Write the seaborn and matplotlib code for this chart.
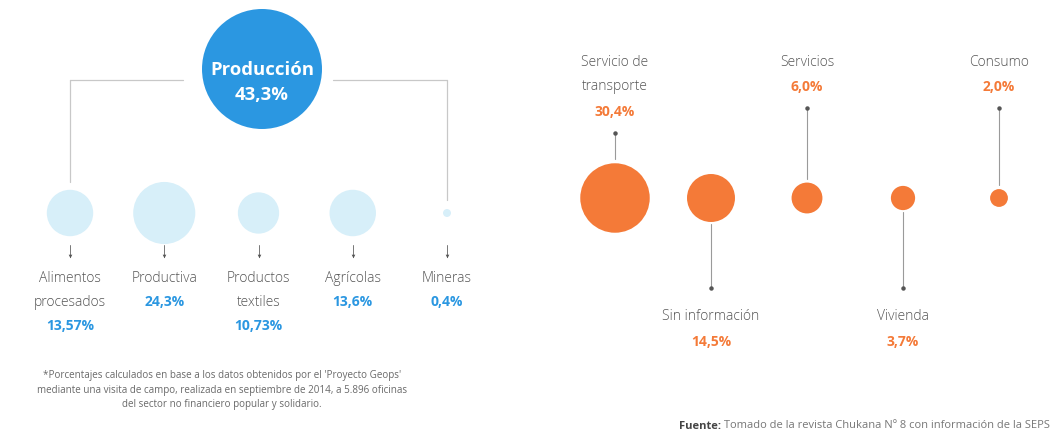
import numpy as np
import pandas as pd
import matplotlib
matplotlib.use("Agg")
import matplotlib.pyplot as plt
import seaborn as sns

# ---------------- data ----------------
prod_name = "Producción"
prod_total = 43.3
prod_label = "43,3%"

left_cats = ["Alimentos\nprocesados", "Productiva", "Productos\ntextiles", "Agrícolas", "Mineras"]
left_vals = [13.57, 24.3, 10.73, 13.6, 0.4]
left_labels = ["13,57%", "24,3%", "10,73%", "13,6%", "0,4%"]

right_cats = ["Servicio de\ntransporte", "Sin información", "Servicios", "Vivienda", "Consumo"]
right_vals = [30.4, 14.5, 6.0, 3.7, 2.0]
right_labels = ["30,4%", "14,5%", "6,0%", "3,7%", "2,0%"]
right_side = ["up", "down", "up", "down", "up"]

footnote = ("*Porcentajes calculados en base a los datos obtenidos por el 'Proyecto Geops'\n"
            "mediante una visita de campo, realizada en septiembre de 2014, a 5.896 oficinas\n"
            "del sector no financiero popular y solidario.")
source_bold = "Fuente:"
source_text = " Tomado de la revista Chukana Nº 8 con información de la SEPS"

# ---------------- style ----------------
W, H, DPI = 1053, 440, 100
BLUE = "#2b97e1"
LIGHT = "#d7eff9"
ORANGE = "#f47a38"
TXT = "#555555"
LINE = "#9a9a9a"
K = 6.3                      # px of radius per sqrt(percent)
PX2PT = 72.0 / DPI
LAB_FS = 10
LAB_W = "light"
VAL_FS = 10

sns.set_theme(style="white")
plt.rcParams["font.family"] = ["Open Sans", "DejaVu Sans"]

fig = plt.figure(figsize=(W / DPI, H / DPI), dpi=DPI)
ax = fig.add_axes([0, 0, 1, 1])
ax.set_xlim(0, W)
ax.set_ylim(H, 0)
ax.axis("off")

def radius(v):
    return K * np.sqrt(v)

# ---------------- left block ----------------
lx = 70 + np.arange(len(left_cats)) * 94.25
ly = 213
left_df = pd.DataFrame({"x": lx, "y": ly, "v": left_vals})
smax = (2 * K * np.sqrt(100) * PX2PT) ** 2
sns.scatterplot(data=left_df, x="x", y="y", size="v", sizes=(0, smax), size_norm=(0, 100),
                color=LIGHT, edgecolor="none", legend=False, ax=ax, alpha=1)

# header circle
prod_df = pd.DataFrame({"x": [np.mean(lx[[0, -1]]) + 3.5], "y": [69], "v": [prod_total]})
sns.scatterplot(data=prod_df, x="x", y="y", s=(120 * PX2PT) ** 2, color=BLUE,
                edgecolor="none", legend=False, ax=ax)
px = prod_df["x"][0]
ax.text(px, 70, prod_name, color="white", fontsize=13.3, fontweight="bold", ha="center", va="center")
ax.text(px, 95, prod_label, color="white", fontsize=13.3, fontweight="bold", ha="center", va="center")

# bracket
by = 80
ax.plot([lx[0], px - 79], [by, by], color="#c8c8c8", lw=0.9)
ax.plot([px + 71, lx[-1]], [by, by], color="#c8c8c8", lw=0.9)
ax.plot([lx[0], lx[0]], [by, 182], color="#c8c8c8", lw=0.9)
ax.plot([lx[-1], lx[-1]], [by, 200], color="#c8c8c8", lw=0.9)

for i, (x, cat, lab) in enumerate(zip(lx, left_cats, left_labels)):
    ax.plot([x, x], [245, 257], color="#777", lw=0.7)
    ax.plot([x], [256], marker="v", ms=2.6, color="#555", mew=0)
    lines = cat.split("\n")
    for j, t in enumerate(lines):
        ax.text(x, 278 + 24 * j, t, color=TXT, fontsize=LAB_FS, fontweight=LAB_W,
                ha="center", va="center")
    ax.text(x, 278 + 24 * len(lines), lab, color=BLUE, fontsize=VAL_FS, fontweight="bold",
            ha="center", va="center")

ax.text(222, 390, footnote, color="#6a6a6a", fontsize=7.1, ha="center", va="center",
        linespacing=1.4)

# ---------------- right block ----------------
rx = 615 + np.arange(len(right_cats)) * 96
ry = 198
right_df = pd.DataFrame({"x": rx, "y": ry, "v": right_vals})
sns.scatterplot(data=right_df, x="x", y="y", size="v", sizes=(0, smax), size_norm=(0, 100),
                color=ORANGE, edgecolor="none", legend=False, ax=ax, alpha=1)

for x, cat, lab, v, side in zip(rx, right_cats, right_labels, right_vals, right_side):
    r = radius(v)
    lines = cat.split("\n")
    if side == "up":
        for j, t in enumerate(lines):
            ax.text(x, 62 + 25 * j, t, color=TXT, fontsize=LAB_FS, fontweight=LAB_W,
                    ha="center", va="center")
        vy = 62 + 25 * len(lines)
        ax.text(x, vy, lab, color=ORANGE, fontsize=VAL_FS, fontweight="bold", ha="center", va="center")
        ax.plot([x, x], [ry - r - 4, vy + 21], color=LINE, lw=0.8)
        ax.plot([x], [vy + 21], marker="o", ms=2.2, color="#555")
    else:
        ax.plot([x, x], [ry + r + 2, 288], color=LINE, lw=0.8)
        ax.plot([x], [288], marker="o", ms=2.2, color="#555")
        ax.text(x, 317, cat, color=TXT, fontsize=LAB_FS, fontweight=LAB_W, ha="center", va="center")
        ax.text(x, 342, lab, color=ORANGE, fontsize=VAL_FS, fontweight="bold", ha="center", va="center")

# source line, right aligned at the page edge
t_norm = ax.text(1050, 426, source_text, color="#777", fontsize=8, ha="right", va="center")
fig.canvas.draw()
bb = t_norm.get_window_extent(renderer=fig.canvas.get_renderer())
left_px = bb.x0
ax.annotate(source_bold, xy=(left_px, H - 426), xycoords="figure pixels",
            color="#444", fontsize=8, fontweight="bold", ha="right", va="center")

fig.savefig("out.png", dpi=DPI)
